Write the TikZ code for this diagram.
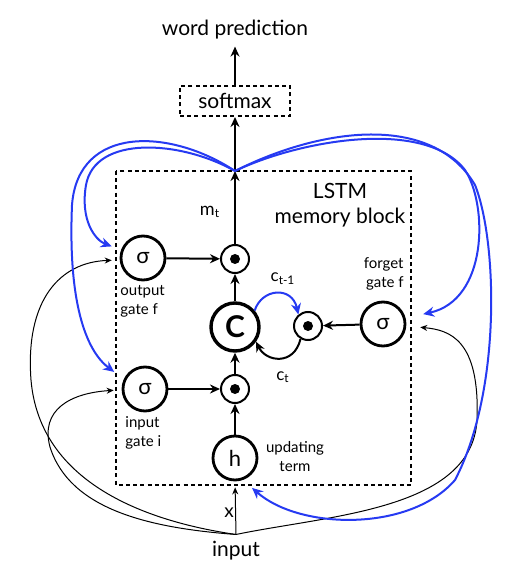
\documentclass[tikz,border=0pt]{standalone}
\usepackage{fontspec}
\setmainfont{Lato}
\usetikzlibrary{arrows.meta}
\definecolor{peepblue}{RGB}{38,58,242}
\begin{document}
\begin{tikzpicture}[x=0.5pt, y=-0.5pt,
        gate/.style={circle, draw, line width=1.4pt, minimum size=22pt, inner sep=0pt, font=\fontsize{11}{13}\selectfont},
        cell/.style={circle, draw, line width=1.7pt, minimum size=24pt, inner sep=0pt, font=\fontsize{15}{17}\selectfont\bfseries},
        mult/.style={circle, draw, line width=1pt, minimum size=14pt, inner sep=0pt,
            path picture={\fill (path picture bounding box.center) circle (2.5pt);}},
        smalltext/.style={inner sep=0pt, font=\fontsize{7.5}{9.5}\selectfont},
        flow/.style={-{Stealth[length=5pt, width=4.5pt]}, line width=1pt},
        feed/.style={-{Stealth[length=3.5pt, width=3pt]}, line width=0.5pt},
        peep/.style={-{Stealth[length=5.5pt, width=5pt]}, line width=1pt, draw=peepblue},
        dashbox/.style={line width=1pt, dash pattern=on 2pt off 1.6pt}]
    \useasboundingbox (0,0) rectangle (528,576);
    \node (pred) at (235,30) [font=\fontsize{10.5}{12}\selectfont] {word prediction};
    \node (softmax) at (235,101) [draw, dashbox, minimum width=55pt, minimum height=15pt, font=\fontsize{10.5}{12}\selectfont] {softmax};
    \draw[dashbox] (116,171) rectangle (411,485);
    \coordinate (mt) at (235,171);
    \node (mtlabel) at (210,212) [font=\fontsize{9}{11}\selectfont] {m\textsubscript{t}};
    \node (lstm) at (340,205) [align=center, font=\fontsize{10.5}{12.5}\selectfont] {LSTM\\memory block};
    % gates and cell
    \node (osig) at (143,258) [gate] {σ};
    \node (omult) at (235,259) [mult] {};
    \node (C) at (235,327) [cell] {C};
    \node (fmult) at (308,326) [mult] {};
    \node (fsig) at (383,324) [gate] {σ};
    \node (isig) at (145,389) [gate] {σ};
    \node (imult) at (235,389) [mult] {};
    \node (h) at (235,458) [gate] {h};
    \node (inp) at (236,551) [font=\fontsize{10.5}{12}\selectfont] {input};
    % labels
    \node (olabel) at (120,285) [anchor=north west, align=left, smalltext] {output\\gate f};
    \node (ilabel) at (125,416) [anchor=north west, align=left, smalltext] {input\\gate i};
    \node (flabel) at (404,257) [anchor=north east, align=right, smalltext] {forget\\gate f};
    \node (hlabel) at (295,441) [anchor=north, align=center, smalltext] {updating\\term};
    \node (cprev) at (283,279) [font=\fontsize{8.5}{10}\selectfont] {c\textsubscript{t-1}};
    \node (cnow) at (283,377) [font=\fontsize{8.5}{10}\selectfont] {c\textsubscript{t}};
    \node (xlabel) at (229,513) [font=\fontsize{9.5}{11}\selectfont] {x};
    % main flow
    \draw[flow] (h) -- (imult);
    \draw[flow] (isig) -- (imult);
    \draw[flow] (imult) -- (C);
    \draw[flow] (C) -- (omult);
    \draw[flow] (osig) -- (omult);
    \draw[flow] (omult) -- (mt);
    \draw[flow] (mt) -- (softmax);
    \draw[flow] (softmax) -- (pred);
    \draw[flow] (fsig) -- (fmult);
    \draw[flow] (fmult.240) .. controls (294,366) and (266,362) .. (C.-35);
    \draw[peep] (C.40) .. controls (262,288) and (292,286) .. (fmult.130);
    % inputs
    \draw[feed, shorten >=3pt] (inp.north) -- (h.south);
    \draw[feed, shorten >=4pt] (inp.north) .. controls (150,522) and (40,485) .. (31,380)
        .. controls (25,300) and (60,262) .. (osig.185);
    \draw[feed, shorten >=4pt] (inp.north) .. controls (150,528) and (70,510) .. (50,447)
        .. controls (40,410) and (70,393) .. (isig.182);
    \draw[feed, shorten >=7pt] (inp.north) .. controls (330,515) and (472,510) .. (477,420)
        .. controls (480,340) and (450,330) .. (fsig.-5);
    % peepholes
    \draw[peep, shorten >=5pt] (mt) .. controls (180,140) and (95,135) .. (86,185)
        .. controls (80,220) and (95,240) .. (osig.160);
    \draw[peep, shorten >=6pt] (mt) .. controls (170,128) and (78,125) .. (72,205)
        .. controls (68,300) and (85,350) .. (isig.155);
    \draw[peep, shorten >=9pt] (mt) .. controls (300,140) and (425,118) .. (465,170)
        .. controls (488,205) and (488,300) .. (fsig.15);
    \draw[peep, shorten >=6pt] (mt) .. controls (320,128) and (432,112) .. (475,185)
        .. controls (497,240) and (502,390) .. (455,480)
        .. controls (410,532) and (300,530) .. (h.-70);
\end{tikzpicture}
\end{document}
